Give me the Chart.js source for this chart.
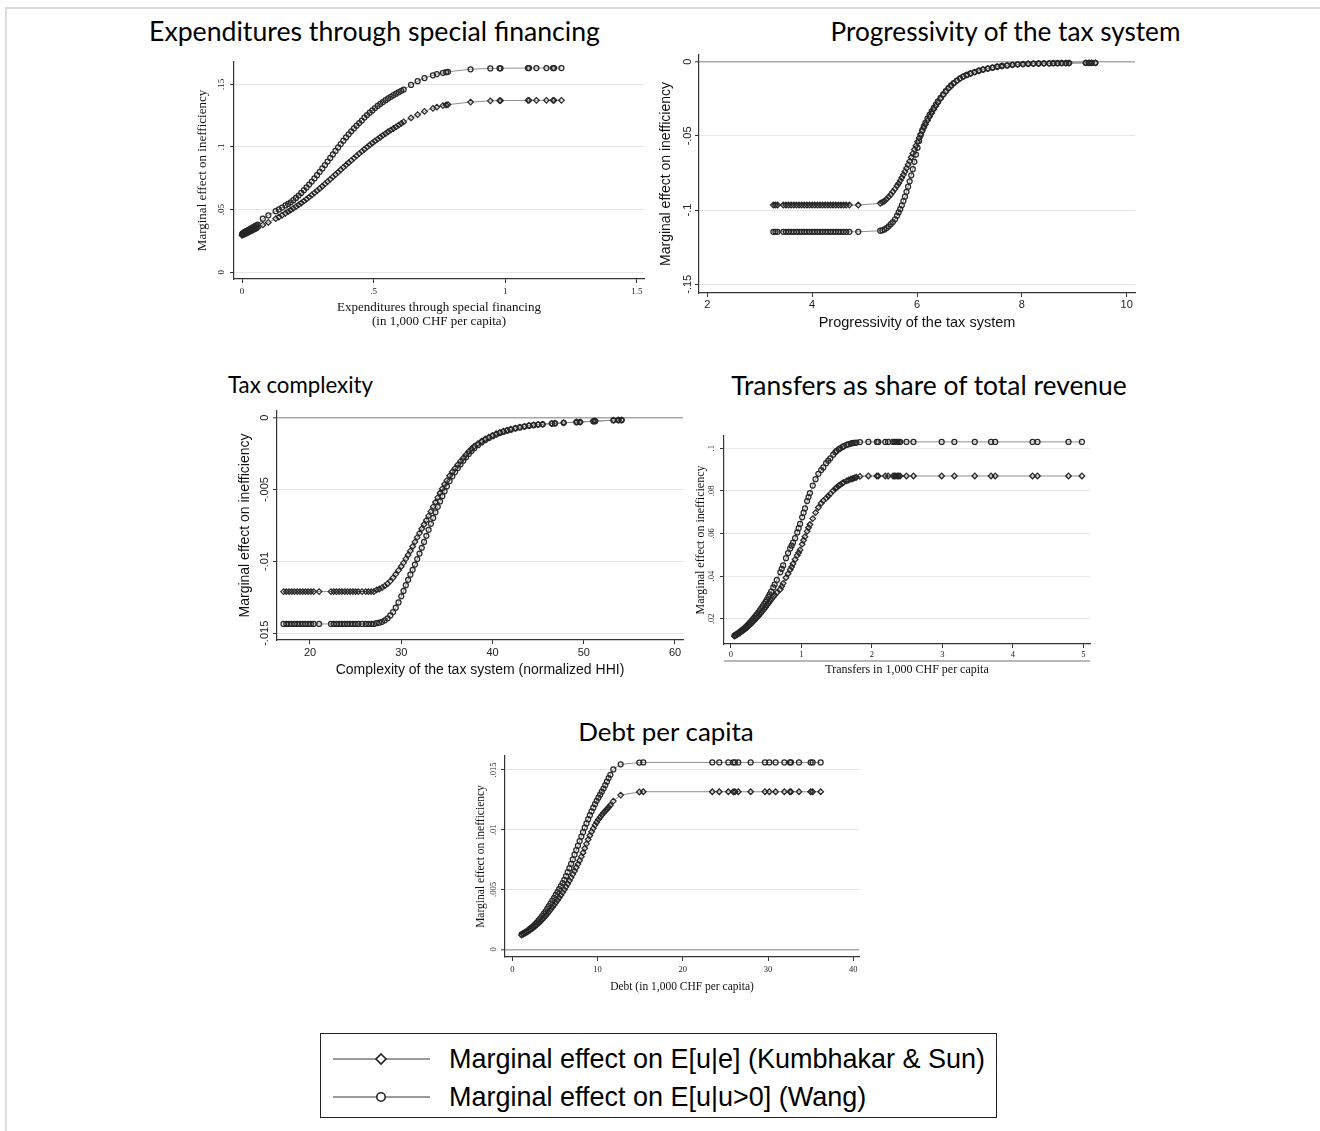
<!DOCTYPE html>
<html>
<head>
<meta charset="utf-8">
<title>Marginal effects on inefficiency</title>
<script src="https://cdn.jsdelivr.net/npm/chart.js@4.4.1/dist/chart.umd.min.js"></script>
<style>
  html, body { margin: 0; padding: 0; background: #fff; }
  #page { position: relative; width: 1320px; height: 1131px; overflow: hidden; background: #fff; }
  .rule { position: absolute; background: #dcdcdc; }
  .ptitle { position: absolute; white-space: nowrap; font-family: Lato, 'Open Sans', sans-serif; color: #000; line-height: 1; transform: translate(-50%, -50%); }
  canvas { position: absolute; }
  #legend { position: absolute; left: 320px; top: 1033px; width: 677px; height: 85px; border: 1px solid #222; box-sizing: border-box; }
  .lrow { position: absolute; left: 0; width: 100%; height: 20px; }
  .lrow svg { position: absolute; left: 12px; top: 0; }
  .lrow span { position: absolute; left: 128px; top: 10px; white-space: nowrap; font-family: 'Liberation Sans', Arial, sans-serif; color: #000; line-height: 1; transform: translateY(-50%); }
</style>
</head>
<body>
<div id="page">
  <div class="rule" style="left:5px;top:7px;width:1315px;height:2px"></div>
  <div class="rule" style="left:5px;top:7px;width:2px;height:1124px"></div>

  <div class="ptitle" data-w="451" style="left:374.5px;top:31px">Expenditures through special financing</div>
  <div class="ptitle" data-w="351" style="left:1005.5px;top:31px">Progressivity of the tax system</div>
  <div class="ptitle" data-w="145" style="left:300.5px;top:385px">Tax complexity</div>
  <div class="ptitle" data-w="396" style="left:929px;top:385px">Transfers as share of total revenue</div>
  <div class="ptitle" data-w="176" style="left:666px;top:732px">Debt per capita</div>

  <canvas id="c1"></canvas>
  <canvas id="c2"></canvas>
  <canvas id="c3"></canvas>
  <canvas id="c4"></canvas>
  <canvas id="c5"></canvas>

  <div class="rule" style="left:724px;top:660px;width:366px;height:2px;background:#b8b8b8"></div>

  <div id="legend">
    <div class="lrow" style="top:15px">
      <svg width="100" height="20"><line x1="0" y1="10" x2="97" y2="10" stroke="#9a9a9a" stroke-width="2"/><path d="M48 5 L53 10 L48 15 L43 10 Z" fill="#fff" stroke="#222" stroke-width="1.6"/></svg>
      <span class="ltext">Marginal effect on E[u|e] (Kumbhakar &amp; Sun)</span>
    </div>
    <div class="lrow" style="top:53px">
      <svg width="100" height="20"><line x1="0" y1="10" x2="97" y2="10" stroke="#9a9a9a" stroke-width="2"/><circle cx="48" cy="10" r="4.2" fill="#fff" stroke="#222" stroke-width="1.6"/></svg>
      <span class="ltext">Marginal effect on E[u|u&gt;0] (Wang)</span>
    </div>
  </div>
</div>

<script>
// ---------- data ----------
// x values are shared by both series of a panel (same observations)

// Expenditures through special financing
const expX = [0, 0.004, 0.008, 0.012, 0.016, 0.02, 0.025, 0.03, 0.035, 0.04, 0.045, 0.05, 0.055, 0.06,
  0.079, 0.1, 0.128, 0.14, 0.152, 0.165,
  0.175, 0.185, 0.195, 0.205, 0.215, 0.225, 0.235, 0.245, 0.255, 0.265,
  0.275, 0.285, 0.295, 0.305, 0.315, 0.325, 0.335, 0.345, 0.355, 0.365,
  0.375, 0.385, 0.395, 0.405, 0.415, 0.425, 0.435, 0.445, 0.455, 0.465,
  0.475, 0.485, 0.495, 0.505, 0.515, 0.525, 0.535, 0.545, 0.555, 0.565,
  0.575, 0.585, 0.595, 0.605, 0.614,
  0.642, 0.667, 0.693, 0.725, 0.74, 0.763, 0.775, 0.782, 0.868, 0.943,
  0.978, 0.982, 1.086, 1.09, 1.118, 1.156, 1.181, 1.185, 1.213];
const expKS = [0.0295, 0.0299, 0.0303, 0.0307, 0.0311, 0.0315, 0.032, 0.0325, 0.033, 0.0335, 0.034, 0.0346, 0.0351, 0.0356,
  0.0378, 0.0398, 0.0428, 0.0441, 0.0455, 0.0471,
  0.0484, 0.0497, 0.051, 0.0524, 0.0538, 0.0553, 0.0568, 0.0584, 0.06, 0.0617,
  0.0634, 0.0651, 0.0669, 0.0687, 0.0705, 0.0724, 0.0742, 0.0761, 0.078, 0.0799,
  0.0818, 0.0837, 0.0856, 0.0874, 0.0893, 0.0911, 0.0929, 0.0947, 0.0965, 0.0982,
  0.0999, 0.1016, 0.1032, 0.1048, 0.1063, 0.1078, 0.1093, 0.1107, 0.1121, 0.1134,
  0.1147, 0.116, 0.1174, 0.1188, 0.12,
  0.1232, 0.1258, 0.1284, 0.1308, 0.1318, 0.133, 0.1335, 0.1338, 0.1358, 0.1368,
  0.137, 0.137, 0.1372, 0.1372, 0.1372, 0.1372, 0.1372, 0.1372, 0.1372];
const expWang = [0.0305, 0.0312, 0.0318, 0.0322, 0.0328, 0.0332, 0.0338, 0.0344, 0.035, 0.0356, 0.0362, 0.0368, 0.0374, 0.038,
  0.0428, 0.0455, 0.0488, 0.0502, 0.0517, 0.0533,
  0.0545, 0.0558, 0.0575, 0.0593, 0.0612, 0.0633, 0.0655, 0.0677, 0.07, 0.0724,
  0.0749, 0.0775, 0.0802, 0.0829, 0.0856, 0.0884, 0.0912, 0.094, 0.0968, 0.0996,
  0.1023, 0.105, 0.1076, 0.1101, 0.1125, 0.1148, 0.117, 0.1191, 0.1211, 0.1235,
  0.1255, 0.1274, 0.1292, 0.131, 0.1327, 0.1343, 0.1358, 0.1373, 0.1387, 0.14,
  0.1413, 0.1425, 0.1437, 0.1448, 0.1458,
  0.1495, 0.1525, 0.155, 0.1572, 0.1582, 0.1592, 0.1597, 0.16, 0.162, 0.1627,
  0.1628, 0.1628, 0.163, 0.163, 0.163, 0.163, 0.163, 0.163, 0.163];

// Progressivity of the tax system
const progX = [3.26, 3.3, 3.34, 3.45, 3.5, 3.55, 3.6, 3.65, 3.7, 3.75,
  3.8, 3.85, 3.9, 3.95, 4.0, 4.05, 4.1, 4.15, 4.2, 4.25,
  4.3, 4.35, 4.4, 4.45, 4.5, 4.55, 4.6, 4.65, 4.71, 4.88,
  5.3, 5.34, 5.38, 5.42, 5.46, 5.5, 5.54, 5.58, 5.62, 5.65,
  5.68, 5.71, 5.74, 5.77, 5.8, 5.83, 5.86, 5.89, 5.92, 5.95,
  5.98, 6.01, 6.04, 6.07, 6.1, 6.13, 6.16, 6.2, 6.24, 6.28,
  6.32, 6.36, 6.4, 6.45, 6.5, 6.55, 6.6, 6.65, 6.7, 6.76,
  6.82, 6.88, 6.95, 7.02, 7.1, 7.18, 7.26, 7.35, 7.44, 7.53,
  7.62, 7.72, 7.82, 7.92, 8.02, 8.12, 8.22, 8.32, 8.42, 8.52,
  8.6, 8.68, 8.76, 8.84, 8.9, 9.22, 9.28, 9.33, 9.4];
const progKS = [-0.0966, -0.0966, -0.0966, -0.0966, -0.0966, -0.0966, -0.0966, -0.0966, -0.0966, -0.0966,
  -0.0966, -0.0966, -0.0966, -0.0966, -0.0966, -0.0966, -0.0966, -0.0966, -0.0966, -0.0966,
  -0.0966, -0.0966, -0.0966, -0.0966, -0.0966, -0.0966, -0.0966, -0.0966, -0.0966, -0.0966,
  -0.0954, -0.0947, -0.0939, -0.0926, -0.0911, -0.0895, -0.0876, -0.0857, -0.0836, -0.082,
  -0.0801, -0.0782, -0.0762, -0.0741, -0.0718, -0.0694, -0.067, -0.0644, -0.0618, -0.0592,
  -0.0566, -0.054, -0.0514, -0.0489, -0.0466, -0.0444, -0.0423, -0.0397, -0.0371, -0.0346,
  -0.0321, -0.0298, -0.0276, -0.0249, -0.0224, -0.0201, -0.018, -0.0162, -0.0146, -0.0129,
  -0.0114, -0.0101, -0.009, -0.008, -0.007, -0.0061, -0.0053, -0.0046, -0.004, -0.0034,
  -0.0029, -0.0025, -0.0021, -0.0018, -0.0016, -0.0014, -0.0013, -0.0012, -0.0011, -0.0011,
  -0.001, -0.001, -0.0009, -0.0009, -0.0009, -0.0008, -0.0008, -0.0008, -0.0008];
const progWang = [-0.1146, -0.1146, -0.1146, -0.1146, -0.1146, -0.1146, -0.1146, -0.1146, -0.1146, -0.1146,
  -0.1146, -0.1146, -0.1146, -0.1146, -0.1146, -0.1146, -0.1146, -0.1146, -0.1146, -0.1146,
  -0.1146, -0.1146, -0.1146, -0.1146, -0.1146, -0.1146, -0.1146, -0.1146, -0.1146, -0.1146,
  -0.1139, -0.1136, -0.113, -0.1121, -0.1109, -0.1095, -0.1081, -0.1062, -0.1038, -0.1016,
  -0.0994, -0.0968, -0.0939, -0.091, -0.0877, -0.0842, -0.0806, -0.0766, -0.0724, -0.0675,
  -0.0626, -0.058, -0.0535, -0.0495, -0.0463, -0.0436, -0.0412, -0.0384, -0.0358, -0.0334,
  -0.0311, -0.0289, -0.0268, -0.0243, -0.022, -0.0198, -0.0178, -0.016, -0.0144, -0.0127,
  -0.0112, -0.01, -0.0089, -0.0079, -0.007, -0.0061, -0.0053, -0.0046, -0.004, -0.0034,
  -0.0029, -0.0025, -0.0021, -0.0018, -0.0016, -0.0014, -0.0013, -0.0012, -0.0011, -0.0011,
  -0.001, -0.001, -0.0009, -0.0009, -0.0009, -0.0008, -0.0008, -0.0008, -0.0008];

// Tax complexity
const complexX = [17.1, 17.4, 17.7, 18.0, 18.3, 18.6, 18.9, 19.2, 19.5, 19.8,
  20.1, 20.4, 21.0, 22.3, 22.6, 22.9, 23.2, 23.5, 23.8, 24.1,
  24.4, 24.7, 25.0, 25.3, 25.7, 26.1, 26.4, 26.7, 27.0, 27.3,
  27.6, 27.9, 28.2, 28.5, 28.8, 29.1, 29.4, 29.7, 30.0, 30.25,
  30.5, 30.75, 31.0, 31.25, 31.5, 31.75, 32.0, 32.25, 32.5, 32.75,
  33.0, 33.25, 33.5, 33.75, 34.0, 34.25, 34.5, 34.75, 35.0, 35.3,
  35.6, 35.9, 36.2, 36.5, 36.8, 37.1, 37.4, 37.7, 38.0, 38.4,
  38.8, 39.2, 39.6, 40.0, 40.4, 40.8, 41.2, 41.6, 42.0, 42.5,
  43.0, 43.5, 44.0, 44.5, 45.0, 45.5, 46.5, 46.85, 47.8, 49.2,
  49.6, 51.05, 51.25, 53.25, 53.8, 54.15];
const complexKS = [-0.0121, -0.0121, -0.0121, -0.0121, -0.0121, -0.0121, -0.0121, -0.0121, -0.0121, -0.0121,
  -0.0121, -0.0121, -0.0121, -0.0121, -0.0121, -0.0121, -0.0121, -0.0121, -0.0121, -0.0121,
  -0.0121, -0.0121, -0.0121, -0.0121, -0.0121, -0.0121, -0.0121, -0.0121, -0.0121, -0.01198,
  -0.01192, -0.01182, -0.0117, -0.01155, -0.01137, -0.01114, -0.01088, -0.01062, -0.01035, -0.0101,
  -0.00982, -0.00955, -0.00927, -0.00896, -0.00864, -0.00833, -0.00803, -0.00773, -0.00743, -0.00713,
  -0.00683, -0.00652, -0.00619, -0.00588, -0.00556, -0.00524, -0.00494, -0.00463, -0.00436, -0.00404,
  -0.00376, -0.00351, -0.00327, -0.00302, -0.0028, -0.00257, -0.00235, -0.00216, -0.00199, -0.0018,
  -0.00163, -0.00148, -0.00135, -0.00123, -0.00111, -0.00102, -0.00094, -0.00087, -0.0008, -0.00073,
  -0.00066, -0.0006, -0.00054, -0.0005, -0.00047, -0.00045, -0.0004, -0.00039, -0.00035, -0.0003,
  -0.0003, -0.00024, -0.00023, -0.00017, -0.00016, -0.00016];
const complexWang = [-0.01435, -0.01435, -0.01435, -0.01435, -0.01435, -0.01435, -0.01435, -0.01435, -0.01435, -0.01435,
  -0.01435, -0.01435, -0.01435, -0.01435, -0.01435, -0.01435, -0.01435, -0.01435, -0.01435, -0.01435,
  -0.01435, -0.01435, -0.01435, -0.01435, -0.01435, -0.01435, -0.01435, -0.01435, -0.01435, -0.0143,
  -0.01426, -0.0142, -0.0141, -0.01396, -0.01376, -0.01352, -0.01322, -0.01285, -0.01243, -0.01205,
  -0.01165, -0.01128, -0.01092, -0.01058, -0.01022, -0.00984, -0.00945, -0.00905, -0.00864, -0.00822,
  -0.0078, -0.00738, -0.00697, -0.00658, -0.0062, -0.00583, -0.00546, -0.00511, -0.00477, -0.00441,
  -0.00408, -0.00378, -0.0035, -0.00324, -0.00299, -0.00275, -0.00252, -0.00231, -0.00212, -0.00191,
  -0.00172, -0.00156, -0.00142, -0.00129, -0.00117, -0.00107, -0.00098, -0.0009, -0.00083, -0.00075,
  -0.00068, -0.00062, -0.00056, -0.00052, -0.00048, -0.00046, -0.00041, -0.0004, -0.00036, -0.00031,
  -0.0003, -0.00025, -0.00024, -0.00018, -0.00017, -0.00017];

// Transfers as share of total revenue
const transX = [0.05, 0.07, 0.09, 0.11, 0.13, 0.15, 0.17, 0.19, 0.21, 0.23,
  0.25, 0.27, 0.29, 0.31, 0.33, 0.35, 0.37, 0.39, 0.41, 0.43,
  0.45, 0.47, 0.49, 0.51, 0.53, 0.55, 0.57, 0.6, 0.62, 0.65,
  0.7, 0.72, 0.74, 0.78, 0.81, 0.84, 0.86, 0.88, 0.91, 0.94,
  0.96, 0.98, 1.01, 1.03, 1.05, 1.08, 1.1, 1.12, 1.16, 1.2,
  1.24, 1.28, 1.31, 1.35, 1.38, 1.41, 1.45, 1.48, 1.5, 1.53,
  1.55, 1.58, 1.6, 1.64, 1.67, 1.7, 1.72, 1.74, 1.76, 1.78,
  1.83, 1.95, 2.07, 2.09, 2.19, 2.23, 2.3, 2.32, 2.34, 2.36,
  2.38, 2.4, 2.49, 2.59, 2.99, 3.17, 3.46, 3.69, 3.75, 4.28,
  4.35, 4.79, 4.98];
const transKS = [0.0118, 0.0122, 0.0126, 0.013, 0.0134, 0.0139, 0.0144, 0.0149, 0.0154, 0.016,
  0.0166, 0.0172, 0.0178, 0.0185, 0.0192, 0.0199, 0.0206, 0.0213, 0.0221, 0.0229,
  0.0237, 0.0245, 0.0254, 0.0263, 0.0272, 0.0281, 0.029, 0.0302, 0.0311, 0.0322,
  0.0338, 0.0352, 0.0366, 0.0392, 0.0411, 0.043, 0.0443, 0.0458, 0.0478, 0.0497,
  0.051, 0.0523, 0.055, 0.0568, 0.0585, 0.061, 0.0627, 0.0642, 0.067, 0.0698,
  0.0722, 0.0742, 0.0754, 0.0766, 0.0776, 0.0786, 0.0801, 0.081, 0.0816, 0.0824,
  0.0829, 0.0836, 0.084, 0.0847, 0.0851, 0.0855, 0.0857, 0.0859, 0.0862, 0.0864,
  0.0868, 0.087, 0.087, 0.087, 0.087, 0.087, 0.087, 0.087, 0.087, 0.087,
  0.087, 0.087, 0.087, 0.087, 0.087, 0.087, 0.087, 0.087, 0.087, 0.087,
  0.087, 0.087, 0.087];
const transWang = [0.0121, 0.0125, 0.0129, 0.0134, 0.0139, 0.0144, 0.0149, 0.0155, 0.0161, 0.0168,
  0.0175, 0.0182, 0.0189, 0.0197, 0.0205, 0.0213, 0.0221, 0.023, 0.0239, 0.0248,
  0.0258, 0.0268, 0.0279, 0.029, 0.0302, 0.0314, 0.0327, 0.0347, 0.036, 0.0382,
  0.0418, 0.0434, 0.045, 0.0484, 0.0508, 0.053, 0.0543, 0.0557, 0.0578, 0.0605,
  0.0625, 0.0645, 0.0676, 0.0697, 0.0718, 0.0752, 0.0771, 0.079, 0.0825, 0.0855,
  0.088, 0.0898, 0.091, 0.093, 0.0942, 0.0953, 0.097, 0.0981, 0.0988, 0.0995,
  0.1, 0.1006, 0.101, 0.1016, 0.1019, 0.1022, 0.1024, 0.1025, 0.1026, 0.1027,
  0.1029, 0.103, 0.103, 0.103, 0.103, 0.103, 0.103, 0.103, 0.103, 0.103,
  0.103, 0.103, 0.103, 0.103, 0.103, 0.103, 0.103, 0.103, 0.103, 0.103,
  0.103, 0.103, 0.103];

// Debt per capita
const debtX = [1.1, 1.3, 1.5, 1.7, 1.9, 2.1, 2.3, 2.5, 2.7, 2.9,
  3.1, 3.3, 3.5, 3.7, 3.9, 4.1, 4.3, 4.5, 4.7, 4.9,
  5.1, 5.3, 5.5, 5.7, 5.9, 6.1, 6.3, 6.5, 6.7, 6.9,
  7.1, 7.3, 7.5, 7.7, 7.9, 8.1, 8.3, 8.5, 8.7, 8.9,
  9.1, 9.3, 9.5, 9.7, 9.9, 10.1, 10.3, 10.5, 10.7, 10.9,
  11.1, 11.3, 11.5, 11.85, 12.71, 14.9, 15.37, 23.46, 24.28, 25.34,
  25.92, 26.12, 26.51, 27.96, 29.64, 30.15, 30.89, 31.91, 32.57, 32.69,
  33.63, 35.0, 35.23, 36.17];
const debtKS = [0.0012, 0.00127, 0.00135, 0.00143, 0.00152, 0.00161, 0.00171, 0.00182, 0.00194, 0.00206,
  0.00219, 0.00233, 0.00248, 0.00263, 0.00279, 0.00296, 0.00314, 0.00332, 0.00351, 0.0037,
  0.0039, 0.0041, 0.00431, 0.00453, 0.00476, 0.00499, 0.00523, 0.00548, 0.00574, 0.006,
  0.00627, 0.00655, 0.00684, 0.00713, 0.00743, 0.00775, 0.00808, 0.00845, 0.00882, 0.00918,
  0.00952, 0.00983, 0.01012, 0.01039, 0.01063, 0.01085, 0.01105, 0.01124, 0.01141, 0.01157,
  0.01172, 0.01188, 0.01205, 0.0124, 0.0129, 0.01316, 0.01318, 0.01318, 0.01318, 0.01318,
  0.01318, 0.01318, 0.01318, 0.01318, 0.01318, 0.01318, 0.01318, 0.01318, 0.01318, 0.01318,
  0.01318, 0.01318, 0.01318, 0.01318];
const debtWang = [0.00125, 0.00133, 0.00142, 0.00151, 0.00161, 0.00172, 0.00184, 0.00197, 0.00211, 0.00226,
  0.00242, 0.00259, 0.00278, 0.00298, 0.00318, 0.0034, 0.00362, 0.00385, 0.00408, 0.00431,
  0.00455, 0.00479, 0.00503, 0.00528, 0.00554, 0.0058, 0.00612, 0.00645, 0.00679, 0.00715,
  0.00752, 0.00791, 0.00829, 0.00867, 0.00905, 0.00943, 0.0098, 0.01017, 0.01053, 0.01088,
  0.01122, 0.01154, 0.01185, 0.01214, 0.01242, 0.01268, 0.01293, 0.01318, 0.01345, 0.01373,
  0.01402, 0.01432, 0.0146, 0.01505, 0.01547, 0.01562, 0.01563, 0.01563, 0.01563, 0.01563,
  0.01563, 0.01563, 0.01563, 0.01563, 0.01563, 0.01563, 0.01563, 0.01563, 0.01563, 0.01563,
  0.01563, 0.01563, 0.01563, 0.01563];

// ---------- tick values and labels ----------
const expXTicks = [0, 0.5, 1, 1.5];
const expXLabels = ['0', '.5', '1', '1.5'];
const expYTicks = [0, 0.05, 0.1, 0.15];
const expYLabels = ['0', '.05', '.1', '.15'];

const progXTicks = [2, 4, 6, 8, 10];
const progXLabels = ['2', '4', '6', '8', '10'];
const progYTicks = [-0.15, -0.1, -0.05, 0];
const progYLabels = ['-.15', '-.1', '-.05', '0'];

const complexXTicks = [20, 30, 40, 50, 60];
const complexXLabels = ['20', '30', '40', '50', '60'];
const complexYTicks = [-0.015, -0.01, -0.005, 0];
const complexYLabels = ['-.015', '-.01', '-.005', '0'];

const transXTicks = [0, 1, 2, 3, 4, 5];
const transXLabels = ['0', '1', '2', '3', '4', '5'];
const transYTicks = [0.02, 0.04, 0.06, 0.08, 0.1];
const transYLabels = ['.02', '.04', '.06', '.08', '.1'];

const debtXTicks = [0, 10, 20, 30, 40];
const debtXLabels = ['0', '10', '20', '30', '40'];
const debtYTicks = [0, 0.005, 0.01, 0.015];
const debtYLabels = ['0', '.005', '.01', '.015'];

const LABEL_KS = 'Marginal effect on E[u|e] (Kumbhakar & Sun)';
const LABEL_WANG = 'Marginal effect on E[u|u>0] (Wang)';
const Y_TITLE = 'Marginal effect on inefficiency';

// ---------- panel layout (page pixels) ----------
const SERIF = "'Liberation Serif', 'DejaVu Serif', serif";
const SANS = "'Liberation Sans', Arial, sans-serif";

const panels = [
  { id: 'c1', x: expX, ks: expKS, wang: expWang,
    xTicks: expXTicks, xLabels: expXLabels, yTicks: expYTicks, yLabels: expYLabels,
    xTitle: ['Expenditures through special financing', '(in 1,000 CHF per capita)'],
    plot: { l: 234, t: 62, r: 644, b: 279 }, xMin: -0.0304, xMax: 1.5266, yMin: -0.00535, yMax: 0.1678,
    family: SERIF, tickSize: 9, xTitleSize: 13, xTitleLH: 1.08, yTitleSize: 13,
    xTickY: 292, xTitleY: 321.7, yTickX: 221.7, yTitleX: 202.7, darkZero: false },
  { id: 'c2', x: progX, ks: progKS, wang: progWang,
    xTicks: progXTicks, xLabels: progXLabels, yTicks: progYTicks, yLabels: progYLabels,
    xTitle: 'Progressivity of the tax system',
    plot: { l: 699, t: 55, r: 1135, b: 293 }, xMin: 1.842, xMax: 10.158, yMin: -0.15586, yMax: 0.00451,
    family: SANS, tickSize: 11, xTitleSize: 14.5, xTitleLH: 1.2, yTitleSize: 14,
    xTickY: 305, xTitleY: 323, yTickX: 688, yTitleX: 666, darkZero: true },
  { id: 'c3', x: complexX, ks: complexKS, wang: complexWang,
    xTicks: complexXTicks, xLabels: complexXLabels, yTicks: complexYTicks, yLabels: complexYLabels,
    xTitle: 'Complexity of the tax system (normalized HHI)',
    plot: { l: 277, t: 411, r: 683, b: 640 }, xMin: 16.384, xMax: 60.877, yMin: -0.015467, yMax: 0.000466,
    family: SANS, tickSize: 11, xTitleSize: 14, xTitleLH: 1.2, yTitleSize: 14,
    xTickY: 653.3, xTitleY: 670, yTickX: 265, yTitleX: 245, darkZero: true },
  { id: 'c4', x: transX, ks: transKS, wang: transWang,
    xTicks: transXTicks, xLabels: transXLabels, yTicks: transYTicks, yLabels: transYLabels,
    xTitle: 'Transfers in 1,000 CHF per capita',
    plot: { l: 724, t: 436, r: 1090, b: 644 }, xMin: -0.0993, xMax: 5.095, yMin: 0.00812, yMax: 0.10577,
    family: SERIF, tickSize: 8.5, xTitleSize: 12, xTitleLH: 1.2, yTitleSize: 12,
    xTickY: 655, xTitleY: 670, yTickX: 711.7, yTitleX: 700.7, darkZero: false },
  { id: 'c5', x: debtX, ks: debtKS, wang: debtWang,
    xTicks: debtXTicks, xLabels: debtXLabels, yTicks: debtYTicks, yLabels: debtYLabels,
    xTitle: 'Debt (in 1,000 CHF per capita)',
    plot: { l: 505, t: 756, r: 859, b: 957 }, xMin: -0.856, xMax: 40.67, yMin: -0.000644, yMax: 0.01617,
    family: SERIF, tickSize: 8.5, xTitleSize: 11.5, xTitleLH: 1.2, yTitleSize: 11.5,
    xTickY: 970, xTitleY: 986.7, yTickX: 493.3, yTitleX: 480.7, darkZero: true }
];

const measureCtx = document.createElement('canvas').getContext('2d');
function textWidth(text, font) {
  measureCtx.font = font;
  return measureCtx.measureText(text).width;
}

function points(xs, ys) {
  return xs.map((x, i) => ({ x: x, y: ys[i] }));
}

function buildPanel(p) {
  const tickLen = 4;
  const lhTick = p.tickSize * 1.2;
  const lhX = p.xTitleSize * p.xTitleLH;
  const lhY = p.yTitleSize * 1.2;

  // canvas box around the plot region
  const cl = Math.floor(p.yTitleX - lhY / 2) - 2;
  const ct = p.plot.t - 14;
  const cr = p.plot.r + 14;
  const cb = Math.ceil(p.xTitleY + lhX / 2) + 2;

  const canvas = document.getElementById(p.id);
  canvas.width = cr - cl;
  canvas.height = cb - ct;
  canvas.style.left = cl + 'px';
  canvas.style.top = ct + 'px';
  canvas.style.width = (cr - cl) + 'px';
  canvas.style.height = (cb - ct) + 'px';

  const tickFont = { family: p.family, size: p.tickSize, lineHeight: 1.2 };
  const widest = Math.max(...p.yLabels.map(s => textWidth(s, p.tickSize + 'px ' + p.family)));
  const yPad = (p.plot.l - p.yTickX) - tickLen - widest / 2;
  const xPad = p.xTickY - p.plot.b - tickLen - lhTick / 2;

  const marker = {
    showLine: true,
    borderColor: '#8f8f8f',
    borderWidth: 1,
    pointBorderColor: '#262626',
    pointBorderWidth: 1.25,
    pointBackgroundColor: 'rgba(0,0,0,0)',
    pointHoverRadius: 0
  };

  new Chart(canvas, {
    type: 'scatter',
    data: {
      datasets: [
        Object.assign({ label: LABEL_KS, data: points(p.x, p.ks), pointStyle: 'rectRot', pointRadius: 2.8 }, marker),
        Object.assign({ label: LABEL_WANG, data: points(p.x, p.wang), pointStyle: 'circle', pointRadius: 2.5 }, marker)
      ]
    },
    options: {
      responsive: false,
      animation: false,
      events: [],
      layout: { autoPadding: false, padding: { left: 0, top: p.plot.t - ct, right: cr - p.plot.r, bottom: 0 } },
      plugins: { legend: { display: false }, tooltip: { enabled: false } },
      scales: {
        x: {
          type: 'linear',
          min: p.xMin,
          max: p.xMax,
          afterBuildTicks: s => { s.ticks = p.xTicks.map(v => ({ value: v })); },
          afterFit: s => { s.height = cb - p.plot.b; },
          ticks: { font: tickFont, color: '#222', padding: xPad, maxRotation: 0, minRotation: 0, autoSkip: false,
                   callback: (v, i) => p.xLabels[i] },
          grid: { drawOnChartArea: false, drawTicks: true, tickLength: tickLen, tickColor: '#333', tickWidth: 1 },
          border: { display: true, color: '#333', width: 1.2 },
          title: { display: true, text: p.xTitle, color: '#111',
                   font: { family: p.family, size: p.xTitleSize, lineHeight: p.xTitleLH },
                   padding: { top: 0, bottom: cb - p.xTitleY - lhX / 2 } }
        },
        y: {
          type: 'linear',
          min: p.yMin,
          max: p.yMax,
          afterBuildTicks: s => { s.ticks = p.yTicks.map(v => ({ value: v })); },
          afterFit: s => { s.width = p.plot.l - cl; },
          ticks: { font: tickFont, color: '#222', padding: yPad, minRotation: 90, maxRotation: 90,
                   crossAlign: 'center', autoSkip: false, callback: (v, i) => p.yLabels[i] },
          grid: {
            color: c => (p.darkZero && c.tick && c.tick.value === 0) ? '#a8a8a8' : '#e6e6e6',
            lineWidth: c => (p.darkZero && c.tick && c.tick.value === 0) ? 1.6 : 1,
            drawTicks: true, tickLength: tickLen, tickColor: '#333', tickWidth: 1
          },
          border: { display: true, color: '#333', width: 1.2 },
          title: { display: true, text: Y_TITLE, color: '#111',
                   font: { family: p.family, size: p.yTitleSize, lineHeight: 1.2 },
                   padding: { top: p.yTitleX - cl - lhY / 2, bottom: 0 } }
        }
      }
    }
  });
}

// panel titles: fit the measured width of each heading
document.querySelectorAll('.ptitle').forEach(el => {
  const w = textWidth(el.textContent, "100px Lato, 'Open Sans', sans-serif");
  el.style.fontSize = (100 * Number(el.dataset.w) / w).toFixed(2) + 'px';
});

// legend text: first row spans about 536px
const legendSize = 100 * 536 / textWidth(LABEL_KS, "100px 'Liberation Sans', Arial, sans-serif");
document.querySelectorAll('.ltext').forEach(el => { el.style.fontSize = legendSize.toFixed(2) + 'px'; });

panels.forEach(buildPanel);
</script>
</body>
</html>
